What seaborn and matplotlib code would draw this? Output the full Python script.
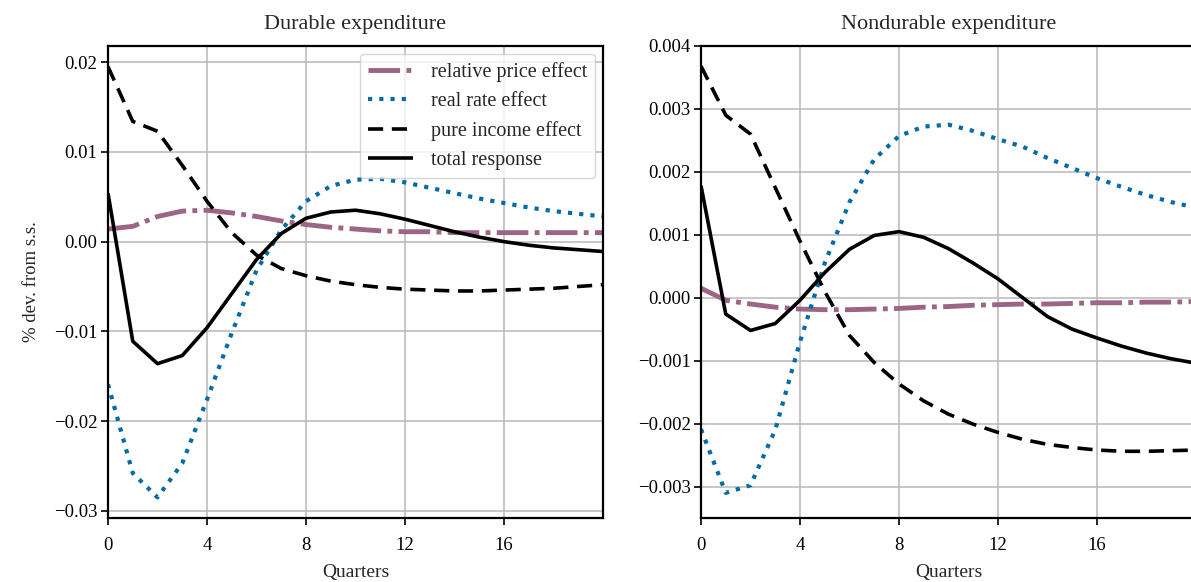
import numpy as np
import pandas as pd
import matplotlib
matplotlib.use("Agg")
import matplotlib.pyplot as plt
import seaborn as sns

quarters = list(range(21))

# Durable expenditure
dur_relprice = [0.0014, 0.0017, 0.0028, 0.0034, 0.0035, 0.0032, 0.0028, 0.0023, 0.0019, 0.0016,
                0.0014, 0.0012, 0.0011, 0.0011, 0.0010, 0.0010, 0.0010, 0.0010, 0.0010, 0.0010, 0.0010]
dur_realrate = [-0.0159, -0.0258, -0.0285, -0.0247, -0.0176, -0.0102, -0.0032, 0.0013, 0.0045, 0.0062,
                0.0069, 0.0070, 0.0066, 0.0060, 0.0054, 0.0048, 0.0043, 0.0038, 0.0034, 0.0031, 0.0028]
dur_income = [0.0195, 0.0134, 0.0123, 0.0085, 0.0045, 0.0010, -0.0015, -0.0030, -0.0038, -0.0044,
              -0.0048, -0.0051, -0.0053, -0.0054, -0.0055, -0.0055, -0.0054, -0.0053, -0.0052, -0.0050, -0.0048]
dur_total = [0.0054, -0.0111, -0.0136, -0.0127, -0.0096, -0.0058, -0.0020, 0.0009, 0.0026, 0.0033,
             0.0035, 0.0031, 0.0025, 0.0018, 0.0011, 0.0005, 0.0000, -0.0004, -0.0007, -0.0009, -0.0011]

# Nondurable expenditure
nd_relprice = [0.00015, -0.00004, -0.00010, -0.00015, -0.00018, -0.00019, -0.00019, -0.00018, -0.00017, -0.00015,
               -0.00014, -0.00012, -0.00011, -0.00010, -0.00010, -0.00009, -0.00008, -0.00008, -0.00007, -0.00007, -0.00006]
nd_realrate = [-0.00209, -0.00310, -0.00298, -0.00210, -0.00070, 0.00055, 0.00152, 0.00220, 0.00257, 0.00272,
               0.00275, 0.00265, 0.00252, 0.00240, 0.00222, 0.00206, 0.00190, 0.00176, 0.00163, 0.00152, 0.00143]
nd_income = [0.00368, 0.00290, 0.00260, 0.00175, 0.00090, 0.00010, -0.00060, -0.00103, -0.00137, -0.00164,
             -0.00185, -0.00201, -0.00214, -0.00225, -0.00233, -0.00238, -0.00242, -0.00244, -0.00244, -0.00243, -0.00242]
nd_total = [0.00178, -0.00026, -0.00052, -0.00041, -0.00004, 0.00040, 0.00077, 0.00099, 0.00105, 0.00096,
            0.00078, 0.00055, 0.00030, 0.00000, -0.00030, -0.00050, -0.00064, -0.00077, -0.00088, -0.00097, -0.00104]

labels = ["relative price effect", "real rate effect", "pure income effect", "total response"]
titles = ["Durable expenditure", "Nondurable expenditure"]
xticks = [0, 4, 8, 12, 16]

sns.set_theme(style="ticks")
plt.rcParams["font.family"] = ["Liberation Serif", "DejaVu Serif"]
plt.rcParams["axes.unicode_minus"] = True

colors = ["#9c6585", "#006ba4", "black", "black"]
widths = [3.5, 3.0, 2.6, 2.6]
dash_specs = [(6.5, 1.3, 1, 1.3), (1, 1.7), (4.2, 2.4), None]

fig = plt.figure(figsize=(11.91, 5.82), dpi=100)
ax1 = fig.add_axes([108 / 1191, 64 / 582, 495 / 1191, 472 / 582])
ax2 = fig.add_axes([701 / 1191, 64 / 582, 495 / 1191, 472 / 582])

panels = [
    (ax1, [dur_relprice, dur_realrate, dur_income, dur_total], (-0.0308, 0.0218), [0.02, 0.01, 0.0, -0.01, -0.02, -0.03]),
    (ax2, [nd_relprice, nd_realrate, nd_income, nd_total], (-0.0035, 0.004), [0.004, 0.003, 0.002, 0.001, 0.0, -0.001, -0.002, -0.003]),
]

for i, (ax, series, ylim, yticks) in enumerate(panels):
    for j, vals in enumerate(series):
        df = pd.DataFrame({"Quarters": quarters, "value": vals})
        sns.lineplot(data=df, x="Quarters", y="value", ax=ax, color=colors[j],
                     lw=widths[j], label=labels[j] if i == 0 else None, legend=False)
        line = ax.get_lines()[-1]
        if dash_specs[j] is not None:
            line.set_dashes(dash_specs[j])
        line.set_solid_capstyle("butt")
        line.set_dash_capstyle("butt")
    ax.set_xlim(0, 20)
    ax.set_ylim(*ylim)
    ax.set_xticks(xticks)
    ax.set_yticks(yticks)
    ax.grid(True, color="#b8b8b8", lw=1.1)
    ax.set_axisbelow(True)
    for sp in ax.spines.values():
        sp.set_color("black")
        sp.set_linewidth(1.6)
    ax.tick_params(direction="out", length=5, width=1.2, colors="black", labelsize=13.5)
    ax.tick_params(axis="x", pad=9)
    ax.tick_params(axis="y", pad=2.5)
    ax.set_title(titles[i], fontsize=16, pad=12)
    ax.set_xlabel("Quarters", fontsize=14, labelpad=7)
    ax.set_ylabel("")

ax1.set_ylabel("% dev. from s.s.", fontsize=13.5, labelpad=10)

h, l = ax1.get_legend_handles_labels()
leg = ax1.legend(h, l, loc="upper right", fontsize=14.5, handlelength=2.2, handletextpad=0.9,
                 frameon=True, fancybox=True, framealpha=0.8, borderpad=0.4, labelspacing=0.5,
                 borderaxespad=0.4)
leg.get_frame().set_edgecolor("#cccccc")

fig.savefig("out.png", dpi=100)
